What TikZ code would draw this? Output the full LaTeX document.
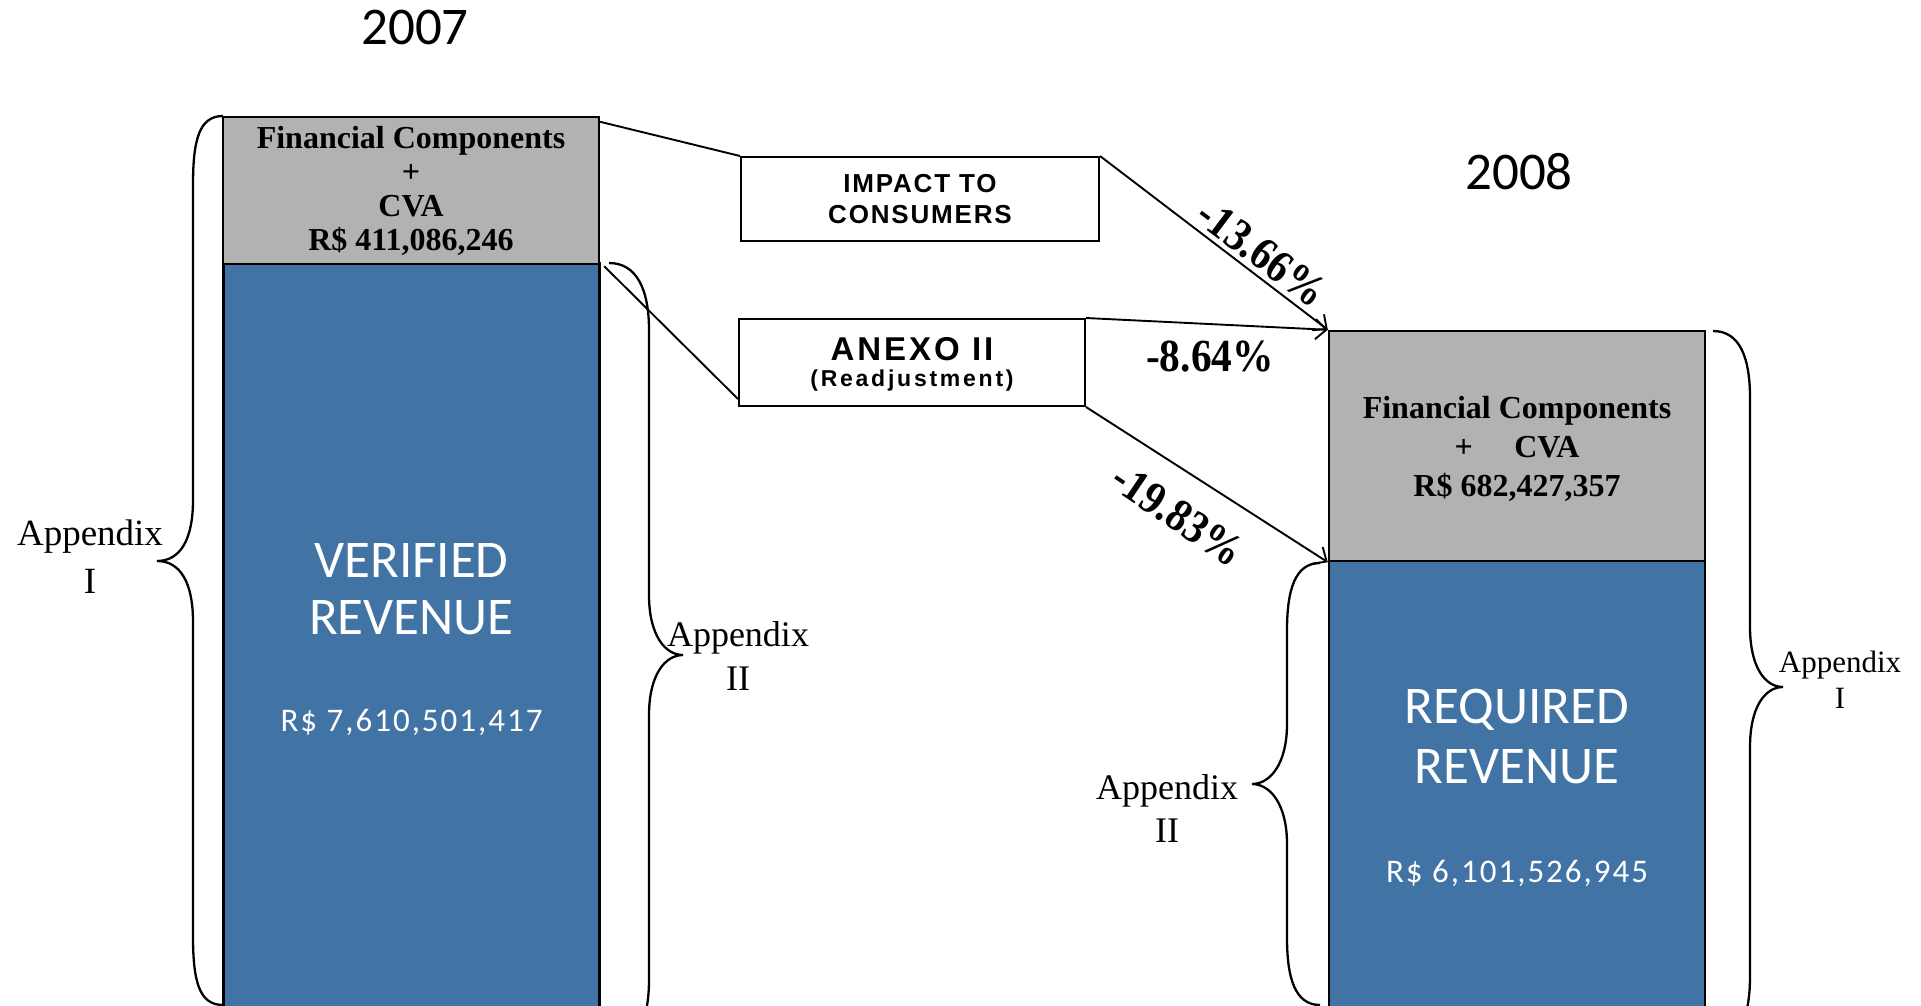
\documentclass[tikz,border=0pt]{standalone}
\usepackage{fontspec}
\setmainfont{Liberation Serif}
\newfontfamily\calfont{Carlito}
\newfontfamily\arfont{Liberation Sans}
\usetikzlibrary{arrows.meta}
\definecolor{rblue}{RGB}{66,115,165}
\definecolor{rgray}{RGB}{178,178,178}
\tikzset{
  gbox/.style={draw=black, line width=2.4pt, fill=rgray, inner sep=0pt, minimum width=376pt, align=center,
    font=\fontsize{32}{34}\selectfont\bfseries},
  bbox/.style={draw=black, line width=2.4pt, fill=rblue, inner sep=0pt, minimum width=376pt},
  wbox/.style={draw=black, line width=2pt, fill=white, inner sep=0pt, align=center},
  conn/.style={line width=1.9pt},
  arr/.style={conn, -{Straight Barb[length=11pt,width=20pt,line width=1.9pt]}},
  brace/.style={line width=2.3pt},
  bigw/.style={text=white, inner sep=0pt, font=\calfont\fontsize{53}{58}\selectfont},
  midw/.style={text=white, inner sep=0pt, font=\calfont\fontsize{33}{38}\selectfont\addfontfeature{LetterSpace=6}},
  year/.style={inner sep=0pt, font=\calfont\fontsize{53}{58}\selectfont},
  pct/.style={inner sep=0pt, font=\fontsize{46}{50}\selectfont\bfseries},
  apx/.style={inner sep=0pt, align=center, font=\fontsize{37}{48}\selectfont},
  boxlab/.style={inner sep=0pt, align=center, font=\arfont\bfseries\fontsize{26}{31}\selectfont\addfontfeature{LetterSpace=7}}
}
\begin{document}
\begin{tikzpicture}[x=1pt,y=-1pt]
\useasboundingbox (0,0) rectangle (1921,1005);
\clip (0,0) rectangle (1921,1005);
\fill[white] (0,0) rectangle (1921,1005);

% years
\node[year] (y7) at (415,27) {2007};
\node[year] (y8) at (1519,172) {2008};

% left column
\node[bbox, minimum height=767pt] (b1) at (411.5,646.5) {};
\node[gbox, minimum height=147pt] (g1) at (411,190.5) {Financial Components\\+\\CVA\\R\$ 411,086,246};
\node[bigw] (v1) at (411.5,560) {VERIFIED};
\node[bigw] (v2) at (411.5,618) {REVENUE};
\node[midw] (v3) at (411.5,722) {R\$ 7,610,501,417};

% right column
\node[bbox, minimum height=469pt] (b2) at (1517,795.5) {};
\node[gbox, minimum height=230pt, text height=0pt, font=\fontsize{32}{39}\selectfont\bfseries] (g2box) at (1517,446) {};
\node[inner sep=0pt, align=center, font=\fontsize{32}{39}\selectfont\bfseries] (g2) at (1517,449) {Financial Components\\+\hspace{1.3em}CVA\\R\$ 682,427,357};
\node[bigw] (r1) at (1517,710) {REQUIRED};
\node[bigw] (r2) at (1517,767) {REVENUE};
\node[midw] (r3) at (1517,873) {R\$ 6,101,526,945};

% middle boxes
\node[wbox, minimum width=358pt, minimum height=84pt] (imp) at (920,199) {};
\node[boxlab] (impt) at (920,199) {IMPACT TO\\CONSUMERS};
\node[wbox, minimum width=346pt, minimum height=87pt] (anx) at (912,362.5) {};
\node[inner sep=0pt, font=\arfont\bfseries\fontsize{33}{36}\selectfont\addfontfeature{LetterSpace=9}] (anx1) at (912,349) {ANEXO II};
\node[inner sep=0pt, font=\arfont\bfseries\fontsize{23}{28}\selectfont\addfontfeature{LetterSpace=12}] (anx2) at (912,381) {(Readjustment)};

% connectors
\draw[conn] ([yshift=-6pt]g1.north east) -- (imp.north west);
\draw[arr] (imp.north east) -- (g2box.north west);
\draw[conn] ([xshift=4pt,yshift=-1pt]g1.south east) -- ([yshift=8pt]anx.south west);
\draw[arr] (anx.north east) -- (g2box.north west);
\draw[arr] (anx.south east) -- (g2box.south west);

% percentages
\node[pct, rotate=-37] (p1) at (1262,253) {\scalebox{0.9}[1]{-13.66\%}};
\node[pct] (p2) at (1210,357) {\scalebox{0.9}[1]{-8.64\%}};
\node[pct, rotate=-34] (p3) at (1178,515) {\scalebox{0.9}[1]{-19.83\%}};

% braces
\draw[brace] (223,116) .. controls (199,116) and (193,140) .. (193,185) -- (193,500)
  .. controls (193,540) and (180,561) .. (157,561)
  .. controls (180,561) and (193,582) .. (193,622) -- (193,936)
  .. controls (193,981) and (199,1005) .. (223,1005);
\draw[brace] (609,263) .. controls (637,263) and (649,290) .. (649,330) -- (649,595)
  .. controls (649,635) and (665,655) .. (683,655)
  .. controls (665,655) and (649,675) .. (649,715) -- (649,980)
  .. controls (649,1020) and (637,1047) .. (609,1047);
\draw[brace] (1713,331) .. controls (1740,331) and (1750,358) .. (1750,398) -- (1750,627)
  .. controls (1750,667) and (1765,687) .. (1783,687)
  .. controls (1765,687) and (1750,707) .. (1750,747) -- (1750,976)
  .. controls (1750,1016) and (1740,1043) .. (1713,1043);
\draw[brace] (1320,563) .. controls (1295,563) and (1287,590) .. (1287,630) -- (1287,724)
  .. controls (1287,764) and (1270,784) .. (1252,784)
  .. controls (1270,784) and (1287,804) .. (1287,844) -- (1287,938)
  .. controls (1287,978) and (1295,1005) .. (1320,1005);

% appendix labels
\node[apx] (a1) at (90,557) {Appendix\\I};
\node[apx, font=\fontsize{36}{44}\selectfont] (a2) at (738,656) {Appendix\\II};
\node[apx, font=\fontsize{36}{43}\selectfont] (a3) at (1167,808) {Appendix\\II};
\node[apx, font=\fontsize{31}{36}\selectfont] (a4) at (1840,680) {Appendix\\I};
\end{tikzpicture}
\end{document}
